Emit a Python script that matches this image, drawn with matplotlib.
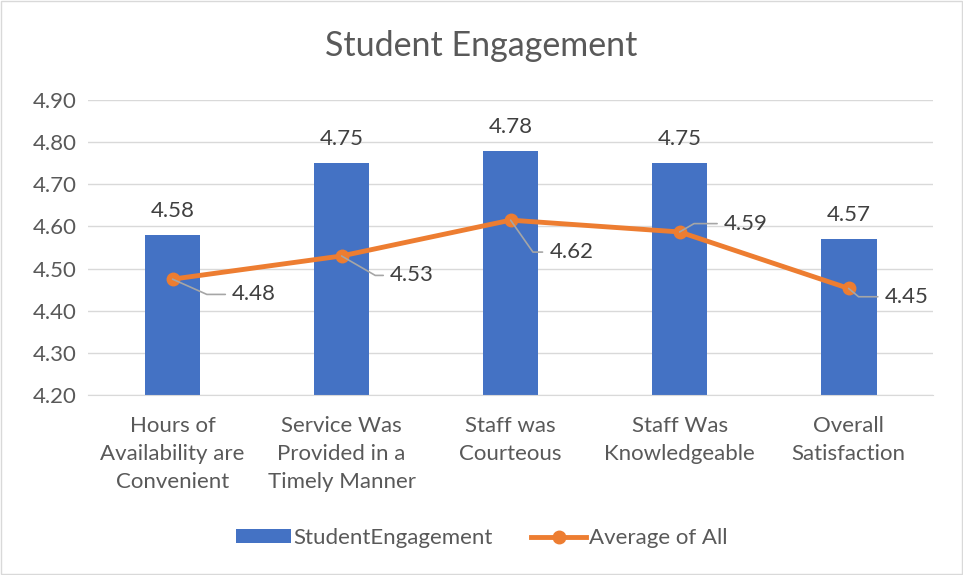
import numpy as np
import matplotlib.pyplot as plt

categories = ["Hours of\nAvailability are\nConvenient",
              "Service Was\nProvided in a\nTimely Manner",
              "Staff was\nCourteous",
              "Staff Was\nKnowledgeable",
              "Overall\nSatisfaction"]
engagement = [4.58, 4.75, 4.78, 4.75, 4.57]
average_all = [4.475, 4.53, 4.615, 4.587, 4.453]
average_labels = ["4.48", "4.53", "4.62", "4.59", "4.45"]

# label offsets for the line labels (points)
label_dx = [43, 35, 28, 32, 26]
label_dy = [-11, -14, -23, 6, -6]
leader_angle = [-24, -30, -55, 30, -40]

plt.rcParams['font.family'] = ['Lato', 'DejaVu Sans']
grey = "#595959"
fs = 16

fig = plt.figure(figsize=(9.63, 5.75), dpi=100)
ax = fig.add_axes([0.0914, 0.313, 0.8776, 0.513])

x = np.arange(len(categories))
bars = ax.bar(x, engagement, width=0.33, color="#4472c4", zorder=2,
              label="StudentEngagement")
line, = ax.plot(x, average_all, color="#ed7d31", lw=3.5, marker="o", ms=9,
                zorder=3, label="Average of All")

for xi, v in zip(x, engagement):
    ax.annotate(f"{v:.2f}", (xi, v), xytext=(0, 10), textcoords="offset points",
                ha="center", va="bottom", fontsize=fs, color="#404040")

for i, (xi, v) in enumerate(zip(x, average_all)):
    ax.annotate(average_labels[i], (xi, v),
                xytext=(label_dx[i], label_dy[i]), textcoords="offset points",
                ha="left", va="center", fontsize=fs, color="#404040",
                arrowprops=dict(arrowstyle="-", color="#a6a6a6", lw=1.2,
                                shrinkA=3, shrinkB=0, relpos=(0, 0.5),
                                connectionstyle=f"angle,angleA=0,angleB={leader_angle[i]},rad=0"),
                zorder=4)

ax.set_ylim(4.2, 4.9)
ax.set_xlim(-0.5, len(categories) - 0.5)
ax.set_yticks(np.arange(4.2, 4.91, 0.1))
ax.set_yticklabels([f"{t:.2f}" for t in np.arange(4.2, 4.91, 0.1)])
ax.set_xticks(x)
ax.set_xticklabels(categories, linespacing=1.5)
ax.tick_params(axis="both", length=0, labelsize=fs, colors=grey)
ax.tick_params(axis="x", pad=15)
ax.tick_params(axis="y", pad=8)
ax.grid(axis="y", color="#d9d9d9", lw=1, zorder=0)
for s in ["top", "right", "left"]:
    ax.spines[s].set_visible(False)
ax.spines["bottom"].set_color("#d9d9d9")

fig.suptitle("Student Engagement", y=0.948, fontsize=24.5, color=grey)

fig.legend([bars, line], ["StudentEngagement", "Average of All"],
           loc="lower center", bbox_to_anchor=(0.5, 0.012), ncol=2,
           frameon=False, fontsize=fs, labelcolor=grey,
           handlelength=2.5, handleheight=0.6, handletextpad=0.1,
           columnspacing=1.7)

fig.patches.append(plt.Rectangle((0.001, 0.001), 0.998, 0.997, transform=fig.transFigure,
                                 fill=False, edgecolor="#d9d9d9", lw=1))

fig.savefig("out.png", dpi=100)
